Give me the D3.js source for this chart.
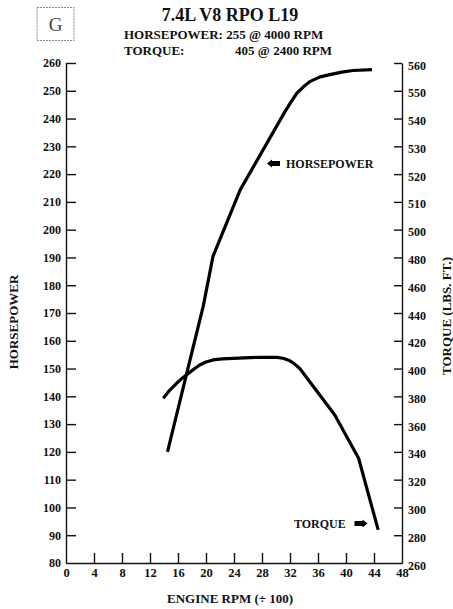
<!DOCTYPE html>
<html>
<head>
<meta charset="utf-8">
<script src="https://cdn.jsdelivr.net/npm/d3@7"></script>
<style>
  html, body { margin: 0; padding: 0; background: #fff; }
  svg { display: block; }
  text { font-family: "Liberation Serif", "Times New Roman", serif; fill: #111; }
</style>
</head>
<body>
<svg id="chart" width="453" height="609"></svg>
<script>
// Engine speed (RPM / 100) and horsepower readings
const hpRpm = [14.5, 17.2, 19.6, 21.0, 24.9, 31.3, 32.2, 33.0, 34.0, 34.9, 36.3, 37.7, 39.4, 41.0, 43.7];
const hpValues = [120, 147.8, 172.4, 190.4, 214.4, 242.6, 246.2, 249.2, 251.6, 253.4, 255.0, 255.8, 256.7, 257.3, 257.6];

// Engine speed (RPM / 100) and torque readings (lbs. ft.)
const tqRpm = [13.9, 14.8, 15.8, 16.5, 17.2, 18.2, 19.1, 20.0, 21.0, 22.3, 23.9, 27.7, 30.1, 31.0, 31.8, 32.5, 33.4, 38.4, 41.8, 44.6];
const tqValues = [378.6, 384.3, 389.4, 392.6, 395.4, 399.3, 402.6, 404.7, 406.2, 407.0, 407.4, 408.1, 408.1, 407.4, 406.0, 403.9, 400.1, 366.6, 335.4, 283.8];

// Tick labels
const rpmTicks = [0, 4, 8, 12, 16, 20, 24, 28, 32, 36, 40, 44, 48];
const hpTicks = [80, 90, 100, 110, 120, 130, 140, 150, 160, 170, 180, 190, 200, 210, 220, 230, 240, 250, 260];
const tqTicks = [260, 280, 300, 320, 340, 360, 380, 400, 420, 440, 460, 480, 500, 510, 520, 530, 540, 550, 560];

const svg = d3.select("#chart");
const plotLeft = 66, plotRight = 402, plotTop = 63, plotBottom = 563;

const x = d3.scaleLinear().domain([0, 48]).range([plotLeft, plotRight]);
const yHp = d3.scaleLinear().domain([80, 260]).range([plotBottom, plotTop]);
// torque scale changes step at 500: 20 lb-ft per division below, 10 above
const yTq = d3.scaleLinear().domain([260, 500, 560]).range([plotBottom, yHp(200), plotTop]);

function styleAxis(g) {
  g.selectAll("path.domain").attr("stroke", "#111").attr("stroke-width", 1.4);
  g.selectAll(".tick line").attr("stroke", "#111").attr("stroke-width", 1.4);
  g.selectAll(".tick text")
    .attr("font-family", "Liberation Serif, serif")
    .attr("font-weight", "bold")
    .attr("font-size", 12)
    .attr("fill", "#111");
}

// bottom axis
svg.append("g")
  .attr("transform", `translate(0,${plotBottom})`)
  .call(d3.axisBottom(x).tickValues(rpmTicks).tickSizeInner(-10).tickSizeOuter(0).tickPadding(5))
  .call(styleAxis)
  .call(g => g.selectAll(".tick text").attr("font-size", 12.5))
  .call(g => g.selectAll(".tick").filter(d => d === 0 || d === 48).select("line").remove());

// left horsepower axis
svg.append("g")
  .attr("transform", `translate(${plotLeft},0)`)
  .call(d3.axisLeft(yHp).tickValues(hpTicks).tickSizeInner(-10).tickSizeOuter(0).tickPadding(5))
  .call(styleAxis)
  .call(g => g.selectAll(".tick").filter(d => d === 80).select("line").remove());

// right torque axis
svg.append("g")
  .attr("transform", `translate(${plotRight},0)`)
  .call(d3.axisRight(yTq).tickValues(tqTicks).tickSizeInner(-8).tickSizeOuter(0).tickPadding(6))
  .call(styleAxis)
  .call(g => g.selectAll(".tick").filter(d => d === 260).select("line").remove())
  .call(g => g.selectAll(".tick text").attr("dy", "0.5em"));

// curves
const hpLine = d3.line().x((d, i) => x(hpRpm[i])).y(d => yHp(d)).curve(d3.curveLinear);
const tqLine = d3.line().x((d, i) => x(tqRpm[i])).y(d => yTq(d)).curve(d3.curveLinear);

svg.append("path").datum(hpValues).attr("d", hpLine)
  .attr("fill", "none").attr("stroke", "#000").attr("stroke-width", 3.2).attr("stroke-linejoin", "round");
svg.append("path").datum(tqValues).attr("d", tqLine)
  .attr("fill", "none").attr("stroke", "#000").attr("stroke-width", 3.2).attr("stroke-linejoin", "round");

// block arrow helper
function arrow(x0, y0, dir) {
  // dir = -1 points left, +1 points right
  const len = 13, h = 7, head = 5, sh = 2.5;
  const tip = dir > 0 ? x0 + len : x0;
  const tail = dir > 0 ? x0 : x0 + len;
  const neck = tip - dir * head;
  const pts = [
    [tail, y0 - sh], [neck, y0 - sh], [neck, y0 - h / 2 - 0.5], [tip, y0],
    [neck, y0 + h / 2 + 0.5], [neck, y0 + sh], [tail, y0 + sh]
  ];
  svg.append("polygon").attr("points", pts.map(p => p.join(",")).join(" ")).attr("fill", "#000");
}

arrow(267, 163.5, -1);
svg.append("text").attr("x", 286).attr("y", 167.5)
  .attr("font-weight", "bold").attr("font-size", 12).text("HORSEPOWER");

arrow(354.5, 523.5, 1);
svg.append("text").attr("x", 294).attr("y", 527.5)
  .attr("font-weight", "bold").attr("font-size", 12).text("TORQUE");

// axis titles
svg.append("text").attr("x", 230).attr("y", 603).attr("text-anchor", "middle")
  .attr("font-weight", "bold").attr("font-size", 13).text("ENGINE RPM (\u00F7 100)");
svg.append("text").attr("transform", "translate(18,322) rotate(-90)").attr("text-anchor", "middle")
  .attr("font-weight", "bold").attr("font-size", 13).text("HORSEPOWER");
svg.append("text").attr("transform", "translate(451,316) rotate(-90)").attr("text-anchor", "middle")
  .attr("font-weight", "bold").attr("font-size", 13).text("TORQUE (LBS. FT.)");

// heading
svg.append("rect").attr("x", 37).attr("y", 7.5).attr("width", 37).attr("height", 33)
  .attr("fill", "none").attr("stroke", "#888").attr("stroke-width", 1).attr("stroke-dasharray", "2,1");
svg.append("text").attr("x", 55.5).attr("y", 31).attr("text-anchor", "middle")
  .attr("font-size", 19).style("fill", "#444").text("G");

svg.append("text").attr("x", 230).attr("y", 20.5).attr("text-anchor", "middle")
  .attr("font-weight", "bold").attr("font-size", 18).text("7.4L V8 RPO L19");
svg.append("text").attr("x", 124).attr("y", 38.5)
  .attr("font-weight", "bold").attr("font-size", 13).text("HORSEPOWER: 255 @ 4000 RPM");
svg.append("text").attr("x", 124).attr("y", 54.5)
  .attr("font-weight", "bold").attr("font-size", 13).text("TORQUE:");
svg.append("text").attr("x", 332).attr("y", 54.5).attr("text-anchor", "end")
  .attr("font-weight", "bold").attr("font-size", 13).text("405 @ 2400 RPM");
</script>
</body>
</html>
